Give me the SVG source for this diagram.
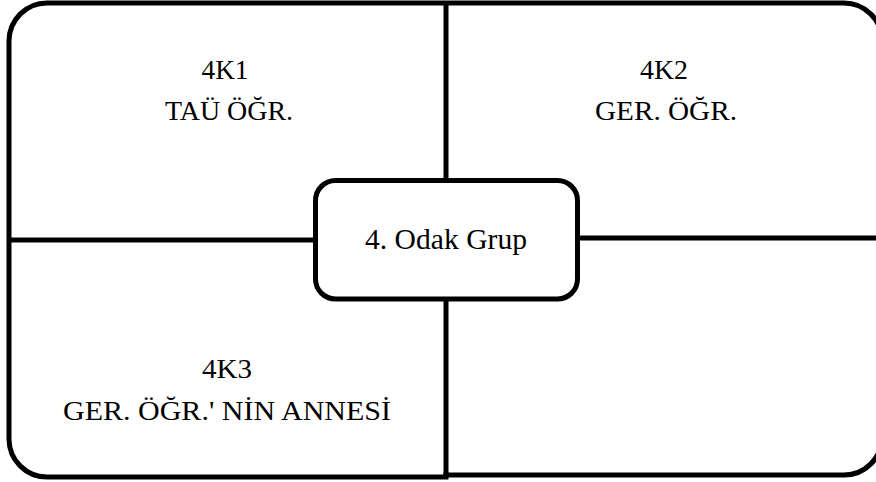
<svg xmlns="http://www.w3.org/2000/svg" width="876" height="482" viewBox="0 0 876 482">
<style>
.ln{fill:none;stroke:#000;stroke-width:5;stroke-linecap:butt}
.box{fill:#fff;stroke:#000;stroke-width:5}
text{fill:#000;text-anchor:middle;font-family:"Liberation Serif","Times New Roman",serif;font-size:28px}
</style>
<rect width="876" height="482" fill="#fff"/>
<g id="connectors">
<path class="ln" d="M 446,3 V 477"/>
<path class="ln" d="M 9,240 H 446 M 446,238 H 882"/>
</g>
<g id="frame">
<path class="ln" d="M 47,3 H 844 A 38,38 0 0 1 882,41 V 437 A 38,38 0 0 1 844,475 H 446 V 477 H 47 A 38,38 0 0 1 9,439 V 41 A 38,38 0 0 1 47,3 Z"/>
</g>
<g id="k1">
<text x="225" y="79" textLength="47" lengthAdjust="spacingAndGlyphs">4K1</text>
<text x="229" y="120" textLength="128" lengthAdjust="spacingAndGlyphs">TAÜ ÖĞR.</text>
</g>
<g id="k2">
<text x="664" y="79" textLength="48" lengthAdjust="spacingAndGlyphs">4K2</text>
<text x="666" y="120" textLength="142" lengthAdjust="spacingAndGlyphs">GER. ÖĞR.</text>
</g>
<g id="k3">
<text x="227" y="378" textLength="50" lengthAdjust="spacingAndGlyphs">4K3</text>
<text x="227" y="420" textLength="328" lengthAdjust="spacingAndGlyphs">GER. ÖĞR.' NİN ANNESİ</text>
</g>
<g id="center">
<rect class="box" x="315.5" y="180.5" width="262" height="118.5" rx="20" ry="20"/>
<text x="446" y="249" style="font-size:29px" textLength="162" lengthAdjust="spacingAndGlyphs">4. Odak Grup</text>
</g>
</svg>
